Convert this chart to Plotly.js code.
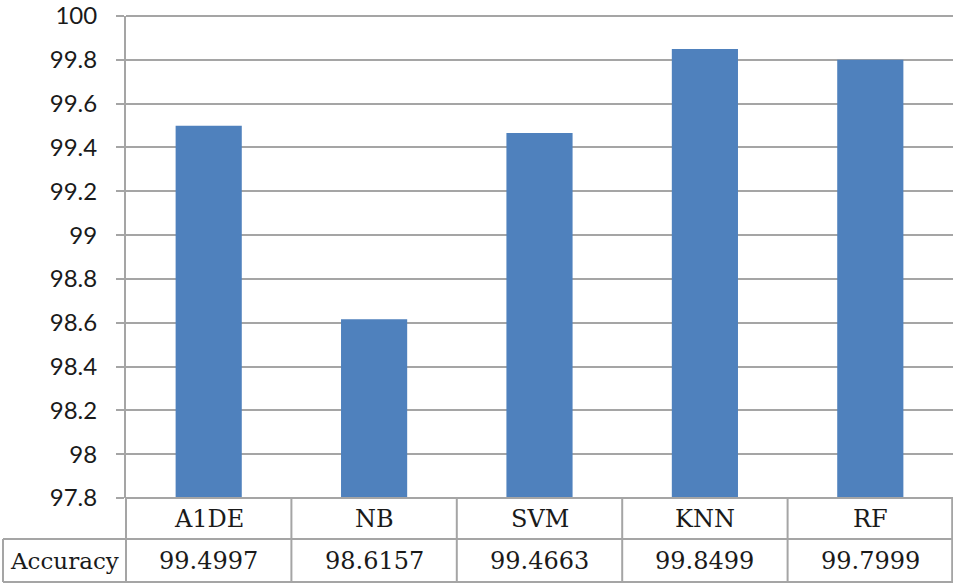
<!DOCTYPE html>
<html>
<head>
<meta charset="utf-8">
<script src="https://cdn.plot.ly/plotly-3.0.1.min.js"></script>
<style>
  html, body { margin: 0; padding: 0; background: #fff; }
  #chart { width: 953px; height: 584px; }
</style>
</head>
<body>
<div id="chart"></div>
<script>
// Accuracy per classifier, with a data table under the axis
const categories = ['A1DE', 'NB', 'SVM', 'KNN', 'RF'];
const accuracy = [99.4997, 98.6157, 99.4663, 99.8499, 99.7999];
const valueLabels = ['99.4997', '98.6157', '99.4663', '99.8499', '99.7999'];
const rowLabel = 'Accuracy';
const yTicks = [97.8, 98, 98.2, 98.4, 98.6, 98.8, 99, 99.2, 99.4, 99.6, 99.8, 100];

const gridColor = '#a5a5a5';
const sansFont = 'Lato, "Open Sans", sans-serif';
const serifFont = '"DejaVu Serif", "Liberation Serif", serif';

// plot area margins (px) and table geometry in paper units
const W = 953, H = 584;
const margin = { l: 126, r: 0, t: 16, b: 86 };
const plotW = W - margin.l - margin.r;
const plotH = H - margin.t - margin.b;
const rowSplit = -41 / plotH;      // line between category row and value row
const tableBottom = -84 / plotH;   // bottom edge of table
const tableLeft = -123 / plotW;    // left edge of the "Accuracy" cell

const data = [{
    x: categories,
    y: accuracy,
    type: 'bar',
    marker: { color: '#4f81bd' },
    hoverinfo: 'x+y'
}];

const line = (x0, y0, x1, y1, xref) => ({
    type: 'line', xref: xref || 'paper', yref: 'paper',
    x0, y0, x1, y1,
    line: { color: gridColor, width: 2 }
});

const shapes = [
    line(0, 0, 1, 0),
    line(0, 1, 1, 1),               // top gridline at 100
    line(tableLeft, rowSplit, 1, rowSplit),
    line(tableLeft, tableBottom, 1, tableBottom),
    line(tableLeft, rowSplit, tableLeft, tableBottom),
    line(0, 0, 0, tableBottom),
    line(0.999, 0, 0.999, tableBottom)
];
// cell dividers between categories
for (let i = 0; i < categories.length - 1; i++) {
    shapes.push(line(i + 0.5, 0, i + 0.5, tableBottom, 'x'));
}

const annotations = [];
categories.forEach((c, i) => {
    annotations.push({
        x: c, xref: 'x', y: rowSplit / 2, yref: 'paper',
        text: c, showarrow: false, xanchor: 'center', yanchor: 'middle',
        font: { family: serifFont, size: 24, color: '#1a1a1a' }
    });
    annotations.push({
        x: c, xref: 'x', y: (rowSplit + tableBottom) / 2, yref: 'paper',
        text: valueLabels[i], showarrow: false, xanchor: 'center', yanchor: 'middle',
        font: { family: serifFont, size: 24, color: '#1a1a1a' }
    });
});
annotations.push({
    x: tableLeft / 2, xref: 'paper', y: (rowSplit + tableBottom) / 2, yref: 'paper',
    text: rowLabel, showarrow: false, xanchor: 'center', yanchor: 'middle',
    font: { family: serifFont, size: 23, color: '#1a1a1a' }
});

const layout = {
    width: W,
    height: H,
    margin: margin,
    paper_bgcolor: '#ffffff',
    plot_bgcolor: '#ffffff',
    showlegend: false,
    bargap: 0.6,
    xaxis: {
        type: 'category',
        range: [-0.5, categories.length - 0.5],
        showticklabels: false,
        showgrid: false,
        zeroline: false,
        showline: false,
        ticks: ''
    },
    yaxis: {
        range: [97.8, 100.0001],
        tickvals: yTicks,
        ticktext: yTicks.map(v => String(v)),
        showgrid: true,
        gridcolor: gridColor,
        gridwidth: 2,
        zeroline: false,
        showline: true,
        linecolor: gridColor,
        linewidth: 2,
        ticks: 'outside',
        ticklen: 8,
        tickwidth: 2,
        tickcolor: gridColor,
        ticklabelstandoff: 14,
        ticklabeloverflow: 'allow',
        tickfont: { family: sansFont, size: 24, color: '#1a1a1a' }
    },
    shapes: shapes,
    annotations: annotations
};

Plotly.newPlot('chart', data, layout, { displayModeBar: false, responsive: false });
</script>
</body>
</html>
